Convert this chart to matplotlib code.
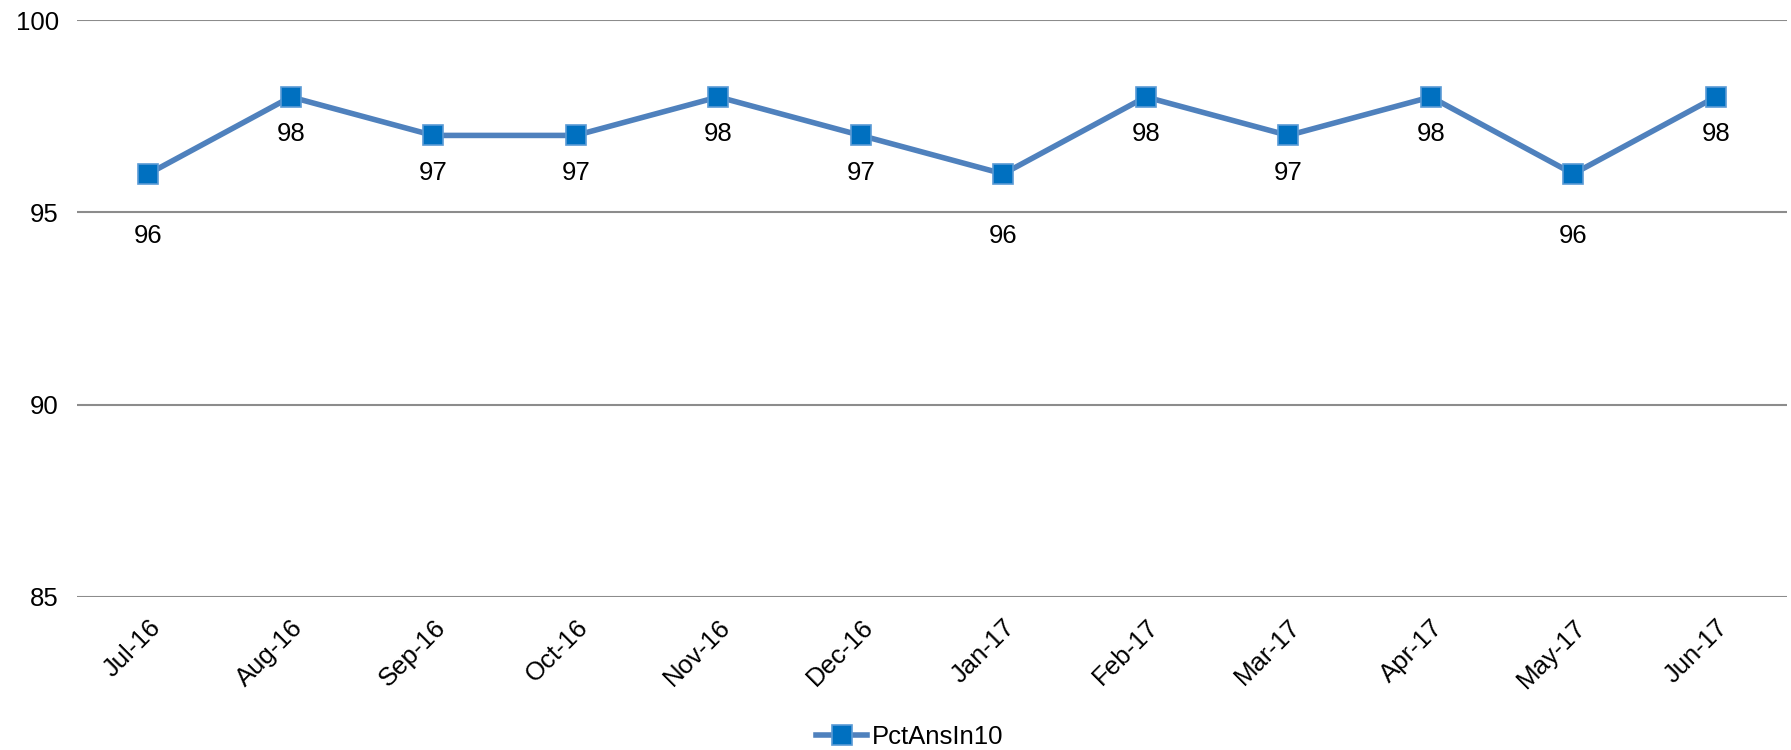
import matplotlib.pyplot as plt

months = ['Jul-16', 'Aug-16', 'Sep-16', 'Oct-16', 'Nov-16', 'Dec-16',
          'Jan-17', 'Feb-17', 'Mar-17', 'Apr-17', 'May-17', 'Jun-17']
pct_ans_in_10 = [96, 98, 97, 97, 98, 97, 96, 98, 97, 98, 96, 98]
y_ticks = [85, 90, 95, 100]

plt.rcParams['font.family'] = ['Liberation Sans', 'DejaVu Sans']

fig = plt.figure(figsize=(17.91, 7.5), dpi=100)
ax = fig.add_axes([0.043, 0.204, 0.9548, 0.7693])

x = list(range(len(months)))
ax.plot(x, pct_ans_in_10, color='#4F81BD', linewidth=4, marker='s',
        markersize=14, markerfacecolor='#0070C0', markeredgecolor='#5B9BD5',
        markeredgewidth=1.2, label='PctAnsIn10', zorder=3)

# Data labels under each point (the lowest ones sit a bit lower)
low = min(pct_ans_in_10)
for xi, v in zip(x, pct_ans_in_10):
    off = -45 if v == low else -27
    ax.annotate(str(v), (xi, v), xytext=(0, off), textcoords='offset points',
                ha='center', va='center', fontsize=18.5, color='black')

ax.set_xlim(-0.5, len(months) - 0.5)
ax.set_ylim(85, 100)
ax.set_yticks(y_ticks)
ax.set_xticks(x)
ax.set_xticklabels(months, rotation=45, ha='right', rotation_mode='anchor')
ax.tick_params(axis='both', length=0, labelsize=18.5, colors='black')
ax.tick_params(axis='x', pad=13)
ax.tick_params(axis='y', pad=13)

ax.grid(axis='y', color='#8C8C8C', linewidth=1.5)
ax.set_axisbelow(True)
for s in ax.spines.values():
    s.set_visible(False)

fig.legend(loc='lower center', bbox_to_anchor=(0.508, -0.03), frameon=False,
           fontsize=18.5, handlelength=2.0, handletextpad=0.2)

fig.savefig('out.png', dpi=100)
